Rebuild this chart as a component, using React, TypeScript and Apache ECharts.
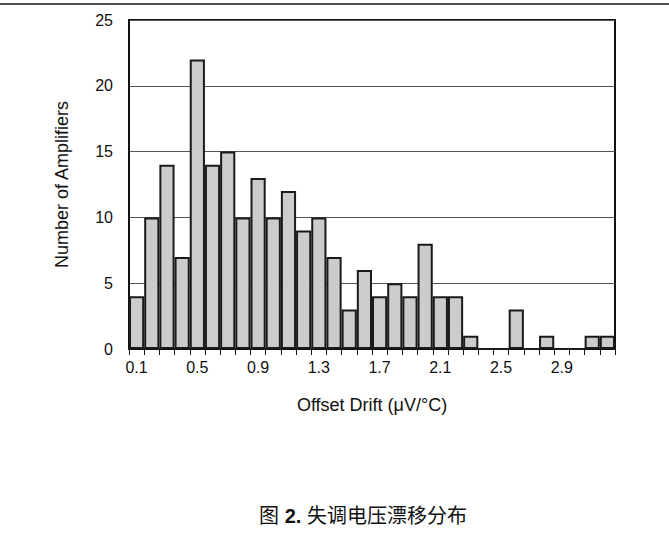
import React, { useEffect, useRef } from "react";
import * as echarts from "echarts";

const categories: string[] = [
  "0.1", "0.2", "0.3", "0.4", "0.5", "0.6", "0.7", "0.8",
  "0.9", "1.0", "1.1", "1.2", "1.3", "1.4", "1.5", "1.6",
  "1.7", "1.8", "1.9", "2.0", "2.1", "2.2", "2.3", "2.4",
  "2.5", "2.6", "2.7", "2.8", "2.9", "3.0", "3.1", "3.2",
];
const counts: number[] = [
  4, 10, 14, 7, 22, 14, 15, 10,
  13, 10, 12, 9, 10, 7, 3, 6,
  4, 5, 4, 8, 4, 4, 1, 0,
  0, 3, 0, 1, 0, 0, 1, 1,
];
const yMin = 0;
const yMax = 25;
const yStep = 5;
const xName = "Offset Drift (μV/°C)";
const yName = "Number of Amplifiers";
const captionPrefix = "图 ";
const captionNumber = "2.";
const captionText = " 失调电压漂移分布";

const FONT = "'Liberation Sans', Arial, Helvetica, sans-serif";
const CJK = "'Liberation Sans', 'Noto Sans CJK SC', sans-serif";

export default function App() {
  const ref = useRef<HTMLDivElement>(null);
  useEffect(() => {
    document.body.style.margin = "0";
    if (!ref.current) return;
    const chart = echarts.init(ref.current, undefined, { renderer: "svg" });
    chart.setOption({
      animation: false,
      backgroundColor: "#ffffff",
      grid: {
        left: 129,
        right: 54,
        top: 20,
        bottom: 184,
        show: true,
        borderColor: "#111111",
        borderWidth: 2,
        backgroundColor: "transparent",
      },
      xAxis: {
        type: "category",
        data: categories,
        boundaryGap: true,
        name: xName,
        nameLocation: "middle",
        nameGap: 47,
        nameTextStyle: { fontSize: 18, color: "#111", fontFamily: FONT },
        axisLine: { show: true, lineStyle: { color: "#111", width: 2 } },
        axisTick: {
          show: true,
          interval: 0,
          length: 6,
          lineStyle: { color: "#111", width: 1 },
        },
        axisLabel: {
          interval: 3,
          fontSize: 16,
          color: "#111",
          fontFamily: FONT,
          margin: 10,
        },
        splitLine: { show: false },
      },
      yAxis: {
        type: "value",
        min: yMin,
        max: yMax,
        interval: yStep,
        name: yName,
        nameLocation: "middle",
        nameGap: 58,
        nameRotate: 90,
        nameTextStyle: { fontSize: 18, color: "#111", fontFamily: FONT },
        axisLine: { show: true, lineStyle: { color: "#111", width: 2 } },
        axisTick: { show: false },
        axisLabel: {
          fontSize: 16,
          color: "#111",
          fontFamily: FONT,
          margin: 16,
        },
        splitLine: { show: true, lineStyle: { color: "#555", width: 1 } },
      },
      series: [
        {
          type: "bar",
          data: counts,
          barCategoryGap: "0%",
          barWidth: "100%",
          itemStyle: {
            color: "#cccccc",
            borderColor: "#1a1a1a",
            borderWidth: 2,
          },
        },
      ],
      graphic: [
        {
          type: "line",
          shape: { x1: 0, y1: 4, x2: 669, y2: 4 },
          style: { stroke: "#111", lineWidth: 1.5 },
        },
        {
          type: "text",
          x: 363,
          y: 516,
          style: {
            text: `{a|${captionPrefix}}{b|${captionNumber}}{a|${captionText}}`,
            align: "center",
            verticalAlign: "middle",
            rich: {
              a: { fontSize: 20, fontFamily: CJK, fill: "#111" },
              b: { fontSize: 20, fontFamily: FONT, fontWeight: "bold", fill: "#111" },
            },
          },
        },
      ],
    });
    return () => chart.dispose();
  }, []);
  return <div ref={ref} style={{ width: 669, height: 533 }} />;
}
